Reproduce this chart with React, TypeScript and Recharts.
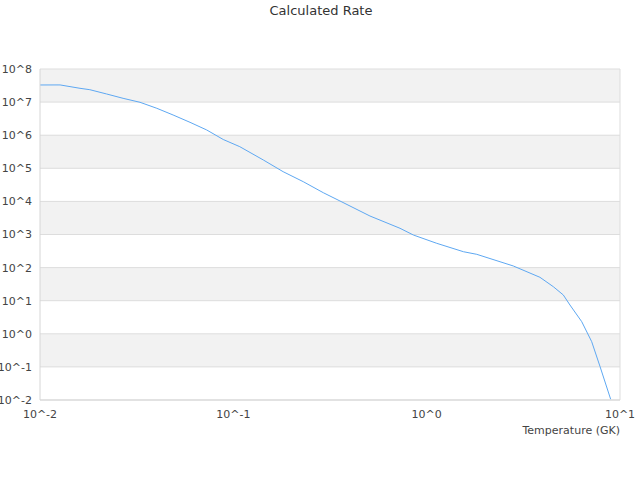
import { LineChart, Line, XAxis, YAxis, CartesianGrid, ReferenceLine } from 'recharts';

// Temperature grid (GK) and calculated rate
const TEMPS = [
  0.01, 0.0127, 0.0161, 0.0181, 0.0221, 0.0269, 0.0329, 0.0402, 0.0488, 0.0597,
  0.0728, 0.0887, 0.108, 0.143, 0.181, 0.23, 0.292, 0.356, 0.509, 0.728,
  0.853, 1.127, 1.549, 1.816, 2.806, 3.855, 4.52, 5.09, 5.51, 6.34,
  7.14, 7.89, 8.95,
];
const RATES = [
  3.29e7, 3.3e7, 2.61e7, 2.37e7, 1.76e7, 1.3e7, 9.87e6, 6.5e6, 4.08e6, 2.45e6,
  1.44e6, 7.41e5, 4.5e5, 1.78e5, 7.9e4, 3.94e4, 1.83e4, 1.03e4, 3.62e3, 1.54e3,
  966, 542, 302, 252, 112, 50.9, 26.5, 14.9, 7.41, 2.32,
  0.577, 0.101, 0.0105,
];

const X_TICKS = [0.01, 0.1, 1, 10];
const Y_TICKS = [0.01, 0.1, 1, 10, 100, 1e3, 1e4, 1e5, 1e6, 1e7, 1e8];

const data = TEMPS.map((t, i) => ({ t, rate: RATES[i] }));

const powLabel = (v: number) => `10^${Math.round(Math.log10(v))}`;

const FONT = 'DejaVu Sans';

const App = () => {
  return (
    <div style={{ position: 'absolute', left: 0, top: 0, width: 640, height: 480, background: '#fff', fontFamily: FONT }}>
      <div style={{ position: 'absolute', top: 3, left: 0, width: 642, textAlign: 'center', fontSize: 13, lineHeight: '16px', color: '#333' }}>
        Calculated Rate
      </div>
      <LineChart width={640} height={480} data={data} margin={{ top: 69, right: 20, bottom: 50, left: 0 }}>
        <CartesianGrid vertical={false} stroke="#dddddd" horizontalFill={['#f2f2f2', '#ffffff']} fillOpacity={1} />
        <ReferenceLine x={10} stroke="#dddddd" />
        <XAxis
          dataKey="t"
          type="number"
          scale="log"
          domain={[0.01, 10]}
          ticks={X_TICKS}
          tickFormatter={powLabel}
          allowDataOverflow
          height={30}
          tickSize={0}
          tickMargin={10}
          tickLine={false}
          axisLine={{ stroke: '#d6d6d6' }}
          tick={{ fontSize: 11, fill: '#444', fontFamily: FONT }}
          label={{
            content: (props: any) => {
              const vb = props.viewBox;
              return (
                <text x={vb.x + vb.width} y={vb.y + 34} textAnchor="end" fontSize={11} fill="#444" fontFamily={FONT}>
                  Temperature (GK)
                </text>
              );
            },
          }}
        />
        <YAxis
          type="number"
          scale="log"
          domain={[0.01, 1e8]}
          ticks={Y_TICKS}
          tickFormatter={powLabel}
          allowDataOverflow
          width={40}
          tickSize={0}
          tickMargin={8}
          tickLine={false}
          axisLine={{ stroke: '#d6d6d6' }}
          tick={{ fontSize: 11, fill: '#444', fontFamily: FONT }}
        />
        <Line
          type="linear"
          dataKey="rate"
          stroke="#5ea8f2"
          strokeWidth={1}
          dot={false}
          isAnimationActive={false}
        />
      </LineChart>
    </div>
  );
};

export default App;
